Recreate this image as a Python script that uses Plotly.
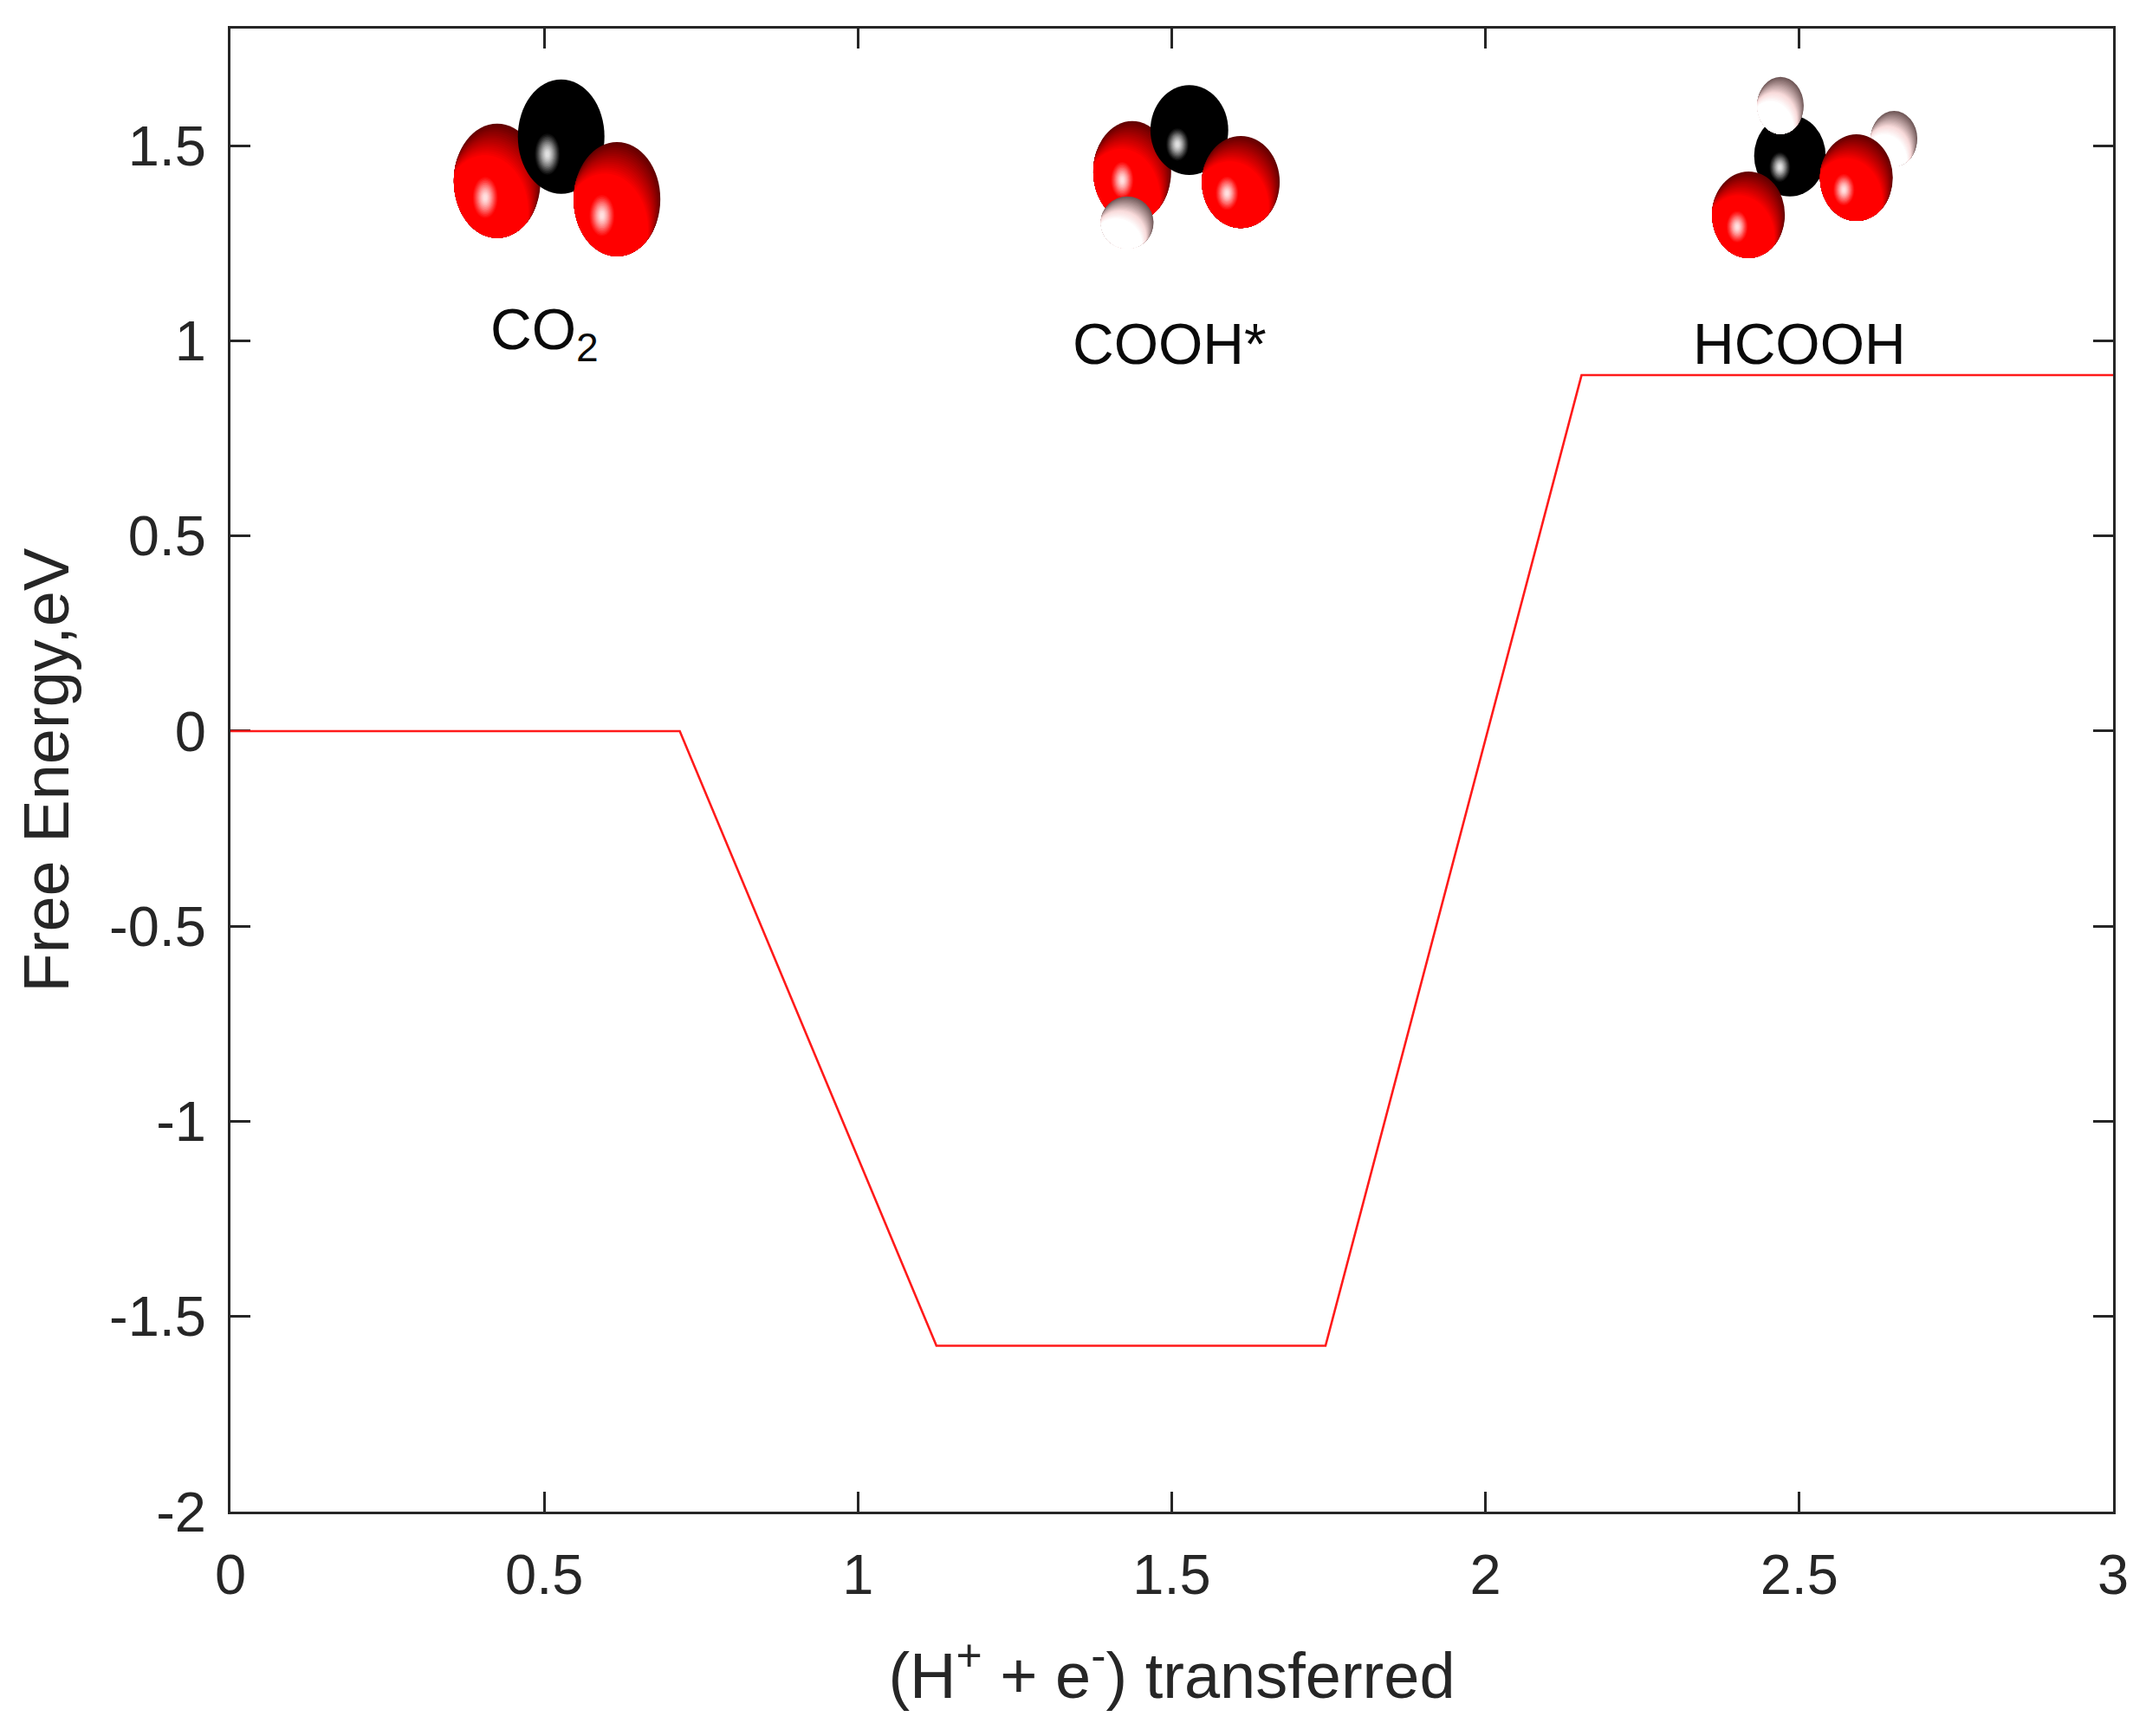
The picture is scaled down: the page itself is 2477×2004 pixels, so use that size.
import math
import plotly.graph_objects as go

# ---------- energy profile ----------
profile_x = [0, 0.716, 1.125, 1.745, 2.153, 3]
profile_y = [0, 0, -1.575, -1.575, 0.912, 0.912]

x_ticks = [0, 0.5, 1, 1.5, 2, 2.5, 3]
x_tick_labels = ["0", "0.5", "1", "1.5", "2", "2.5", "3"]
y_ticks = [-2, -1.5, -1, -0.5, 0, 0.5, 1, 1.5]
y_tick_labels = ["-2", "-1.5", "-1", "-0.5", "0", "0.5", "1", "1.5"]

x_title = "(H<sup>+</sup> + e<sup>-</sup>) transferred"
y_title = "Free Energy,eV"

# ---------- state labels ----------
state_labels = ["CO<sub>2</sub>", "COOH*", "HCOOH"]
state_x = [0.5, 1.497, 2.5]
state_y = [1.018, 0.993, 0.993]

# ---------- molecule atoms, in drawing order (data units) ----------
atom_kind = ["O", "C", "O",  "O", "C", "O", "H",  "H", "C", "H", "O", "O"]
atom_x = [0.425, 0.527, 0.616, 1.437, 1.528, 1.610, 1.429, 2.651, 2.485, 2.470, 2.419, 2.591]
atom_y = [1.410, 1.523, 1.363, 1.434, 1.540, 1.407, 1.303, 1.518, 1.474, 1.603, 1.323, 1.418]
atom_rx = [0.069, 0.069, 0.069, 0.062, 0.062, 0.062, 0.042, 0.037, 0.057, 0.037, 0.058, 0.058]
atom_ry = [0.1465, 0.1465, 0.1465, 0.129, 0.115, 0.118, 0.067, 0.071, 0.104, 0.073, 0.111, 0.111]
glow_x = [0.406, 0.505, 0.592, 1.421, 1.509, 1.588, 1.411, 2.634, 2.469, 2.453, 2.401, 2.571]
glow_y = [1.367, 1.478, 1.321, 1.412, 1.503, 1.378, 1.274, 1.492, 1.445, 1.567, 1.292, 1.387]

shade_colors = {"O": (100, 0, 0), "C": (0, 0, 0), "H": (112, 88, 88)}
body_colors = {"O": (255, 0, 0), "C": (0, 0, 0), "H": (248, 218, 218)}
light_dir = (-0.45, -0.89)   # where the lit side of every atom faces, on the unit circle


def rgb(c):
    return "rgb(%d,%d,%d)" % tuple(round(v) for v in c)


def ellipse(cx, cy, rx, ry, color, opacity=1.0):
    return dict(type="circle", xref="x", yref="y",
                x0=cx - rx, x1=cx + rx, y0=cy - ry, y1=cy + ry,
                fillcolor=color, opacity=opacity, line_width=0, layer="above")


def lens(cx, cy, rx, ry, d, color):
    """Atom outline cut by the same outline moved d towards the lit side."""
    px, py = light_dir[0] * d / 2, light_dir[1] * d / 2
    centers = [(0.0, 0.0), (light_dir[0] * d, light_dir[1] * d)]
    pts = []
    for i in range(44):
        a = 2 * math.pi * i / 44
        ux, uy = math.cos(a), math.sin(a)
        r = 1e9
        for ccx, ccy in centers:
            vx, vy = px - ccx, py - ccy
            b = vx * ux + vy * uy
            r = min(r, -b + math.sqrt(max(b * b - vx * vx - vy * vy + 1, 0)))
        pts.append((cx + rx * (px + r * ux), cy + ry * (py + r * uy)))
    path = "M " + " L ".join("%.4f,%.4f" % p for p in pts) + " Z"
    return dict(type="path", xref="x", yref="y", path=path, fillcolor=color,
                line_width=0, layer="above")


shapes = []
for kind, cx, cy, rx, ry, gx, gy in zip(atom_kind, atom_x, atom_y, atom_rx, atom_ry, glow_x, glow_y):
    dark, body = shade_colors[kind], body_colors[kind]
    shapes.append(ellipse(cx, cy, rx, ry, rgb(dark)))
    if kind == "O":
        for i in range(1, 17):
            t = i / 16
            col = [d + (b - d) * t for d, b in zip(dark, body)]
            shapes.append(lens(cx, cy, rx, ry, 0.62 * t, rgb(col)))
    elif kind == "H":  # grey shoulder, pink body, white lit side
        for i in range(1, 15):
            t = i / 14
            col = [d + (b - d) * t for d, b in zip(dark, body)]
            shapes.append(lens(cx, cy, rx, ry, 0.6 * t, rgb(col)))
        for i in range(1, 9):
            t = i / 8
            col = [b + (255 - b) * t for b in body]
            shapes.append(lens(cx, cy, rx, ry, 0.6 + 0.35 * t, rgb(col)))
    # specular spot on O and C: soft, many thin translucent layers
    if kind != "H":
        for k in range(14):
            f = 0.36 - 0.024 * k
            shapes.append(ellipse(gx, gy, rx * f * 0.8, ry * f, "white", 0.05 + 0.014 * k))

fig = go.Figure()
fig.add_trace(go.Scatter(x=profile_x, y=profile_y, mode="lines",
                         line=dict(color="#ff1a1a", width=2.6), showlegend=False, hoverinfo="skip"))

annotations = [
    dict(x=x, y=y, text=t, xref="x", yref="y", showarrow=False,
         font=dict(family="Liberation Sans", size=66, color="#0a0a0a"))
    for t, x, y in zip(state_labels, state_x, state_y)
]

axis_common = dict(showline=True, linecolor="#262626", linewidth=3, mirror="ticks",
                   ticks="inside", ticklen=23, tickwidth=2.5, tickcolor="#262626",
                   showgrid=False, zeroline=False, layer="below traces",
                   tickfont=dict(family="Liberation Sans", size=65, color="#262626"),
                   tickmode="array")

fig.update_layout(
    width=2477, height=2004, autosize=False,
    margin=dict(l=266, r=38, t=33, b=259, pad=0),
    paper_bgcolor="white", plot_bgcolor="white",
    shapes=shapes, annotations=annotations,
    xaxis=dict(range=[0, 3], tickvals=x_ticks, ticktext=x_tick_labels,
               ticklabelstandoff=14,
               title=dict(text=x_title, standoff=56,
                          font=dict(family="Liberation Sans", size=74, color="#262626")),
               **axis_common),
    yaxis=dict(range=[-2, 1.8], tickvals=y_ticks, ticktext=y_tick_labels,
               ticklabelstandoff=12,
               title=dict(text=y_title, standoff=23,
                          font=dict(family="Liberation Sans", size=74, color="#262626")),
               **axis_common),
)

fig.write_html("out.html", config={"displayModeBar": False},
               post_script="document.body.style.margin='0';")
